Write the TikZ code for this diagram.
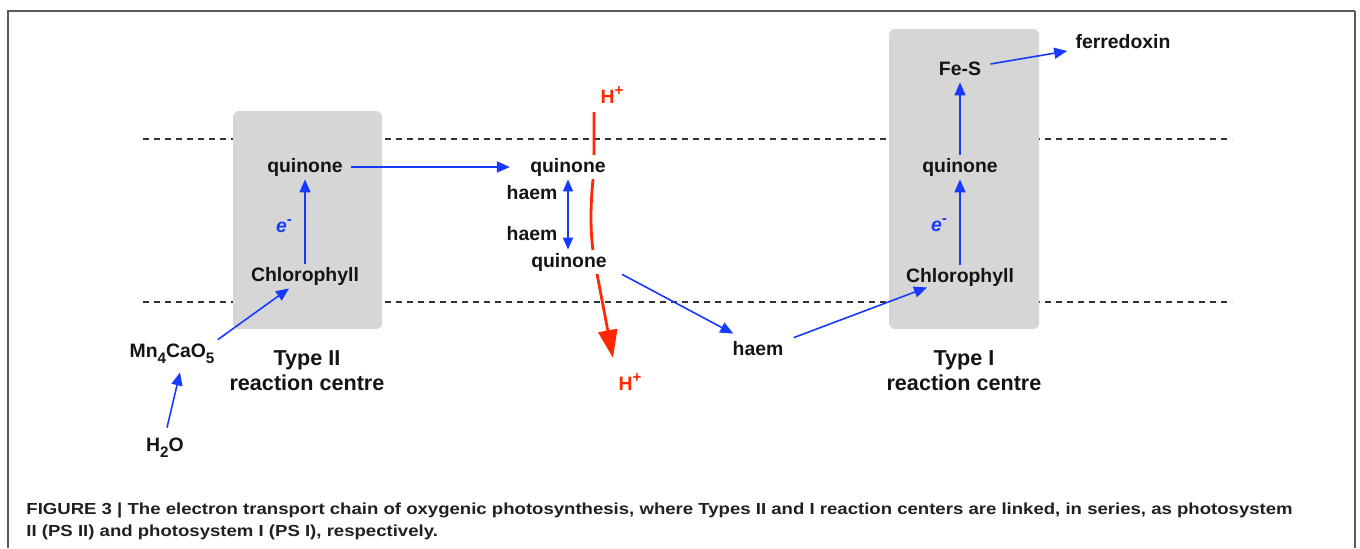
\documentclass[tikz,border=0pt]{standalone}
\usepackage{fontspec}
\usepackage{graphicx}
\setmainfont{Liberation Sans}
\usetikzlibrary{arrows.meta,calc}
\definecolor{eblue}{RGB}{22,58,255}
\definecolor{hred}{RGB}{255,40,0}
\definecolor{boxgray}{RGB}{214,214,214}
\definecolor{txt}{RGB}{20,20,20}
\definecolor{capgray}{RGB}{35,31,32}
\definecolor{framegray}{RGB}{90,90,90}
\newcommand\dsub[1]{\raisebox{-3.2pt}{\fontsize{7.6}{8}\selectfont #1}}
\newcommand\dsup[1]{\raisebox{4pt}{\fontsize{7.6}{8}\selectfont #1}}
\begin{document}
\begin{tikzpicture}[x=0.5pt,y=-0.5pt,
  lbl/.style={font=\bfseries\fontsize{9.7}{11}\selectfont, text=txt, inner sep=1.5pt, text height=7pt, text depth=2pt, anchor=base},
  wlbl/.style={lbl, fill=white},
  big/.style={font=\bfseries\fontsize{10.8}{13}\selectfont, text=txt, inner sep=0pt, anchor=base},
  elbl/.style={lbl, text=eblue, font=\bfseries\itshape\fontsize{9.7}{11}\selectfont},
  hlbl/.style={lbl, text=hred},
  barr/.style={draw=eblue, line width=0.8pt, -{Triangle[length=6.5pt,width=5.5pt]}},
  bbarr/.style={draw=eblue, line width=0.8pt, {Triangle[length=6pt,width=5pt]}-{Triangle[length=6pt,width=5pt]}},
  rarr/.style={draw=hred, line width=1.4pt, -{Triangle[length=14pt,width=9.5pt]}},
  membrane/.style={draw=black!80, line width=0.7pt, dash pattern=on 3pt off 2.5pt},
  rcbox/.style={fill=boxgray, rounded corners=3pt},
  captxt/.style={font=\bfseries\fontsize{8}{9}\selectfont, text=capgray, inner sep=0pt, anchor=base west},
  framel/.style={draw=framegray, line width=0.6pt}
]
\useasboundingbox (0,0) rectangle (1360,548);
% frame
\draw[framel] (8,548) -- (8,11) -- (1355,11);
\draw[framel, line width=0.9pt] (1355,11) -- (1355,548);
% membrane
\draw[membrane] (143,139) -- (1232,139);
\draw[membrane] (143,302) -- (1232,302);
% reaction centre boxes
\fill[rcbox] (233,111) rectangle (382,329);
\fill[rcbox] (889,29) rectangle (1039,329);
% proton path (drawn before the white-backed quinone labels)
\coordinate (rs) at (594,112);
\coordinate (re) at (613,358);
\draw[rarr] (rs) -- (594,170) .. controls (590,205) and (590,232) .. (594,258) -- (re);
% labels: Type II
\node[lbl] (qL) at (305,172) {quinone};
\node[lbl] (chlL) at (305,281) {Chlorophyll};
\node[elbl] (eL) at (284,232) {e\dsup{\upshape -}};
\node[lbl] (mn) at (172,357) {Mn\dsub{4}CaO\dsub{5}};
\node[lbl] (h2o) at (165,451) {H\dsub{2}O};
\node[big] (t2) at (307,365) {Type II};
\node[big] (rc2) at (307,390) {reaction centre};
% middle
\node[wlbl] (qM) at (568,172) {quinone};
\node[lbl] (haemA) at (532,199) {haem};
\node[lbl] (haemB) at (532,240) {haem};
\node[wlbl] (qM2) at (569,267) {quinone};
\node[hlbl] (hTop) at (612,103) {H\dsup{+}};
\node[hlbl] (hBot) at (630,390) {H\dsup{+}};
\node[lbl] (haemC) at (758,355) {haem};
% Type I
\node[lbl] (chlR) at (960,282) {Chlorophyll};
\node[lbl] (qR) at (960,172) {quinone};
\node[lbl] (feS) at (960,75) {Fe-S};
\node[lbl] (fer) at (1123,48) {ferredoxin};
\node[elbl] (eR) at (939,231) {e\dsup{\upshape -}};
\node[big] (t1) at (964,365) {Type I};
\node[big] (rc1) at (964,390) {reaction centre};
% connectors
\draw[barr] ([shift={(1pt,3pt)}]h2o.north) -- ([shift={(4pt,-4pt)}]mn.south);
\draw[barr] (mn.north east) -- ([xshift=-8pt]chlL.south);
\draw[barr] (chlL.north) -- (qL.south);
\draw[barr] ([xshift=2.5pt]qL.east) -- ([xshift=-8.5pt]qM.west);
\draw[bbarr] (qM.south) -- (qM.south |- qM2.north);
\draw[barr] ([xshift=6pt]qM2.south east) -- ([shift={(2pt,2pt)}]haemC.north west);
\draw[barr] ([xshift=3.5pt]haemC.north east) -- ([shift={(-16.5pt,1pt)}]chlR.south);
\draw[barr] (chlR.north) -- (qR.south);
\draw[barr] (qR.north) -- (feS.south);
\draw[barr] ([shift={(3pt,3pt)}]feS.east) -- ([shift={(-2.5pt,-4pt)}]fer.west);
% caption
\node[captxt] (cap1) at (26,514) {\scalebox{1.161}[1]{FIGURE 3 | The electron transport chain of oxygenic photosynthesis, where Types II and I reaction centers are linked, in series, as photosystem}};
\node[captxt] (cap2) at (26,536) {\scalebox{1.161}[1]{II (PS II) and photosystem I (PS I), respectively.}};
\end{tikzpicture}
\end{document}
